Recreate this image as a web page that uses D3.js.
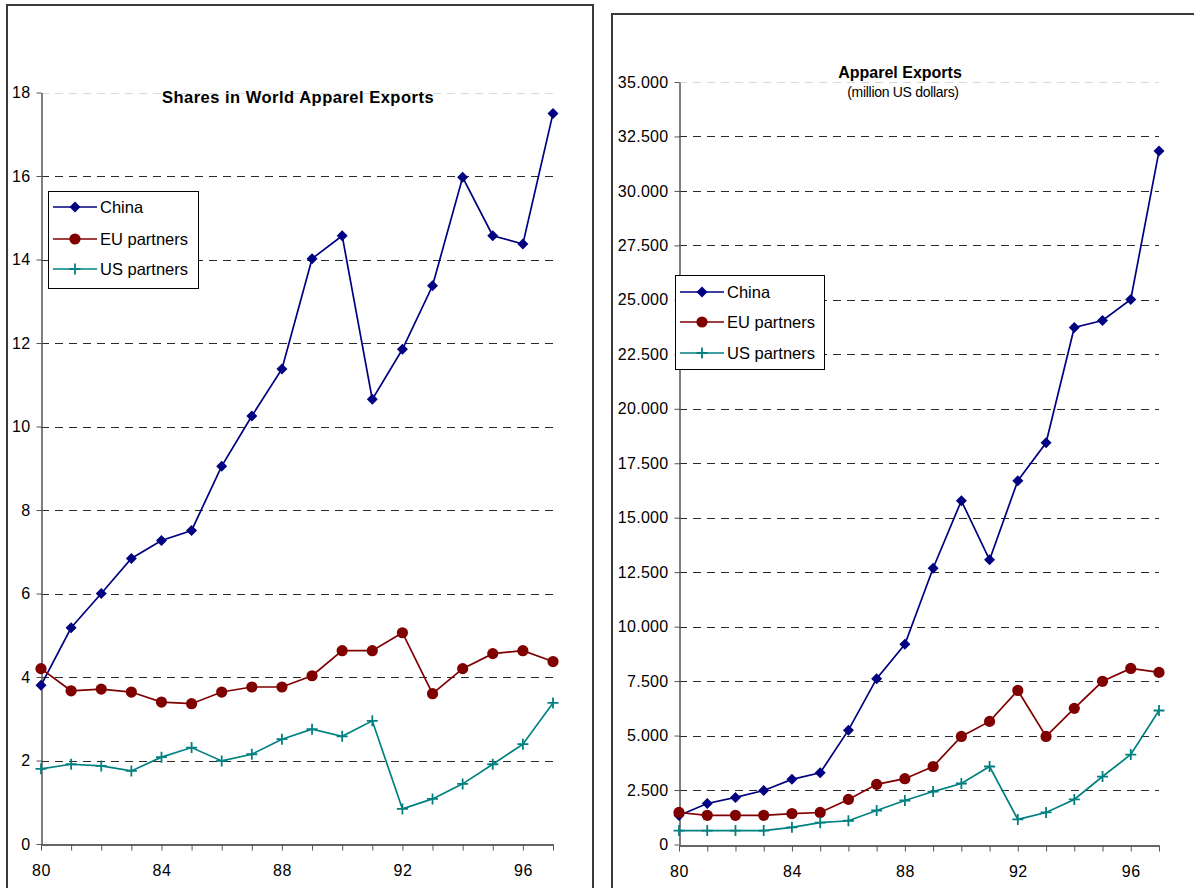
<!DOCTYPE html>
<html>
<head>
<meta charset="utf-8">
<script src="https://cdn.jsdelivr.net/npm/d3@7/dist/d3.min.js"></script>
<style>
  html, body { margin: 0; padding: 0; background: #fff; }
  svg { display: block; font-family: "Liberation Sans", Arial, sans-serif; }
</style>
</head>
<body>
<svg id="chart" width="1194" height="888"></svg>
<script>
// Years (1980–1997, two-digit)
const years = [80, 81, 82, 83, 84, 85, 86, 87, 88, 89, 90, 91, 92, 93, 94, 95, 96, 97];
const xTickLabels = [80, 84, 88, 92, 96];

// Shares in world apparel exports (%)
const shareChina = [3.8, 5.18, 6.0, 6.84, 7.27, 7.51, 9.05, 10.25, 11.38, 14.02, 14.57, 10.65, 11.85, 13.37, 15.97, 14.57, 14.37, 17.5];
const shareEU    = [4.2, 3.67, 3.71, 3.64, 3.4, 3.36, 3.64, 3.76, 3.76, 4.03, 4.63, 4.63, 5.06, 3.6, 4.2, 4.56, 4.63, 4.37];
const shareUS    = [1.8, 1.91, 1.87, 1.75, 2.08, 2.31, 1.99, 2.15, 2.51, 2.75, 2.58, 2.95, 0.84, 1.08, 1.44, 1.91, 2.39, 3.38];
const shareTicks = [0, 2, 4, 6, 8, 10, 12, 14, 16, 18];

// Apparel exports (million US dollars)
const exportChina = [1330, 1880, 2160, 2480, 2990, 3290, 5250, 7610, 9190, 12680, 15780, 13070, 16700, 18440, 23730, 24050, 25020, 31830];
const exportEU    = [1470, 1340, 1340, 1340, 1420, 1470, 2070, 2760, 3020, 3580, 4960, 5650, 7070, 4960, 6250, 7490, 8080, 7900];
const exportUS    = [640, 640, 640, 640, 790, 1000, 1090, 1560, 2020, 2430, 2800, 3580, 1150, 1470, 2070, 3120, 4130, 6150];
const exportTicks = [0, 2500, 5000, 7500, 10000, 12500, 15000, 17500, 20000, 22500, 25000, 27500, 30000, 32500, 35000];

const seriesNames = ["China", "EU partners", "US partners"];
const seriesColors = ["#000080", "#800000", "#008080"];
const seriesMarkers = ["diamond", "circle", "plus"];

const dotLocale = d3.formatLocale({ decimal: ",", thousands: ".", grouping: [3], currency: ["", ""] });
const fmtThousands = dotLocale.format(",");

const svg = d3.select("#chart");

function drawMarker(g, type, color) {
  if (type === "diamond") {
    g.append("path").attr("d", "M0,-5.5L5.5,0L0,5.5L-5.5,0Z").attr("fill", color);
  } else if (type === "circle") {
    g.append("circle").attr("r", 5.6).attr("fill", color);
  } else {
    g.append("path").attr("d", "M-5.5,0H5.5M0,-5.5V5.5")
      .attr("stroke", color).attr("stroke-width", 1.8).attr("fill", "none");
  }
}

function drawPanel(opt) {
  const root = svg.append("g");

  // outer frame
  root.append("rect")
    .attr("x", opt.frame[0]).attr("y", opt.frame[1])
    .attr("width", opt.frame[2]).attr("height", opt.frame[3])
    .attr("fill", "#fff").attr("stroke", "#3a3a3a").attr("stroke-width", 2);

  const x = d3.scaleLinear().domain([years[0], years[years.length - 1]]).range(opt.xRange);
  const y = d3.scaleLinear().domain([0, opt.yTicks[opt.yTicks.length - 1]]).range(opt.yRange);

  // dashed gridlines
  root.append("g").selectAll("line")
    .data(opt.yTicks.slice(1))
    .join("line")
    .attr("x1", x.range()[0]).attr("x2", x.range()[1])
    .attr("y1", d => Math.round(y(d)) + 0.5).attr("y2", d => Math.round(y(d)) + 0.5)
    .attr("stroke", (d, i, a) => i === a.length - 1 ? "#d8d8d8" : "#2a2a2a")
    .attr("stroke-width", 1)
    .attr("stroke-dasharray", "8,6");

  // y axis
  const yAxis = root.append("g")
    .attr("transform", `translate(${Math.round(x.range()[0]) + 0.5},0)`)
    .call(d3.axisLeft(y).tickValues(opt.yTicks).tickFormat(opt.yFormat)
      .tickSize(5).tickSizeOuter(0).tickPadding(6));
  yAxis.select(".domain").attr("stroke", "#555").attr("stroke-width", 1.5);
  yAxis.selectAll(".tick line").attr("stroke", "#555");
  yAxis.selectAll("text").attr("font-size", 16).attr("letter-spacing", 0.3).attr("fill", "#000");

  // x axis
  const xAxis = root.append("g")
    .attr("transform", `translate(0,${Math.round(y(0)) + 0.5})`)
    .call(d3.axisBottom(x).tickValues(years)
      .tickFormat(d => xTickLabels.includes(d) ? String(d) : "")
      .tickSize(6).tickSizeOuter(0).tickPadding(14));
  xAxis.select(".domain").attr("stroke", "#333").attr("stroke-width", 1.5);
  xAxis.selectAll(".tick line").attr("stroke", "#555");
  xAxis.selectAll("text").attr("font-size", 16).attr("letter-spacing", 0.5).attr("fill", "#000");

  // series lines and markers
  opt.series.forEach((vals, si) => {
    const pts = years.map((yr, i) => [yr, vals[i]]);
    root.append("path")
      .datum(pts)
      .attr("fill", "none")
      .attr("stroke", seriesColors[si])
      .attr("stroke-width", 1.7)
      .attr("d", d3.line().x(d => x(d[0])).y(d => y(d[1])));
    const mg = root.append("g");
    pts.forEach(p => {
      const g = mg.append("g").attr("transform", `translate(${x(p[0])},${y(p[1])})`);
      drawMarker(g, seriesMarkers[si], seriesColors[si]);
    });
  });

  // titles
  opt.titles.forEach(t => {
    root.append("text")
      .attr("x", t.x).attr("y", t.y)
      .attr("text-anchor", "middle")
      .attr("font-size", t.size)
      .attr("font-weight", t.bold ? "bold" : "normal")
      .attr("letter-spacing", t.spacing || 0)
      .attr("fill", "#000")
      .text(t.text);
  });

  // legend
  const L = opt.legend;
  const lg = root.append("g").attr("transform", `translate(${L.x},${L.y})`);
  lg.append("rect").attr("x", 0.5).attr("y", 0.5).attr("width", L.w).attr("height", L.h)
    .attr("fill", "#fff").attr("stroke", "#000").attr("stroke-width", 1);
  seriesNames.forEach((name, i) => {
    const cy = L.rows[i];
    const row = lg.append("g").attr("transform", `translate(0,${cy})`);
    row.append("line").attr("x1", 5).attr("x2", 49).attr("y1", 0).attr("y2", 0)
      .attr("stroke", seriesColors[i]).attr("stroke-width", 1.7);
    const mk = row.append("g").attr("transform", "translate(27,0)");
    drawMarker(mk, seriesMarkers[i], seriesColors[i]);
    row.append("text").attr("x", 52).attr("y", 0).attr("dy", "0.35em")
      .attr("font-size", 16.5).attr("fill", "#000").text(name);
  });
}

drawPanel({
  frame: [7, 5, 586, 920],
  xRange: [41, 553],
  yRange: [844, 92.5],
  yTicks: shareTicks,
  yFormat: d => String(d),
  series: [shareChina, shareEU, shareUS],
  titles: [{ text: "Shares in World Apparel Exports", x: 298, y: 103, size: 16.5, bold: true, spacing: 0.5 }],
  legend: { x: 48, y: 191, w: 150, h: 97, rows: [16, 48, 78] }
});

drawPanel({
  frame: [612, 14, 620, 920],
  xRange: [679, 1159],
  yRange: [844.5, 82],
  yTicks: exportTicks,
  yFormat: d => fmtThousands(d),
  series: [exportChina, exportEU, exportUS],
  titles: [
    { text: "Apparel Exports", x: 900, y: 78, size: 16, bold: true },
    { text: "(million US dollars)", x: 903, y: 97, size: 14, bold: false, spacing: -0.3 }
  ],
  legend: { x: 675, y: 275, w: 149, h: 94, rows: [17, 47, 78] }
});
</script>
</body>
</html>
